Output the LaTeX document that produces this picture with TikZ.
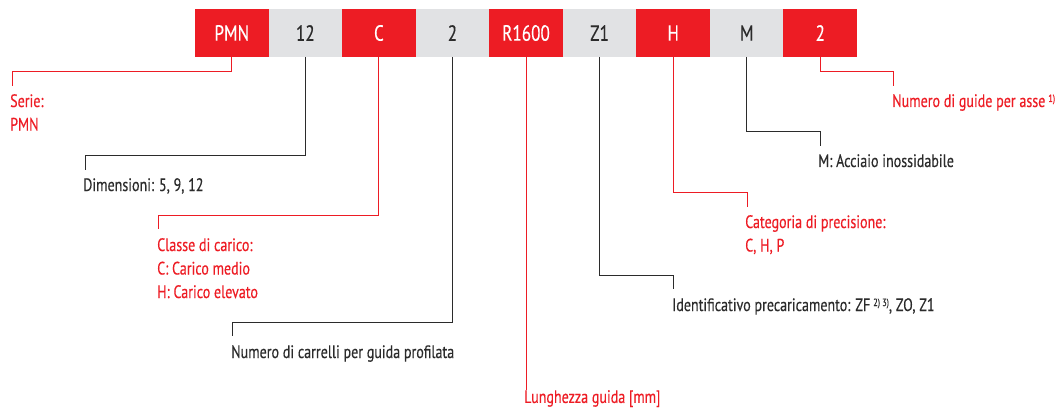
\documentclass[tikz,border=0pt]{standalone}
\usepackage{fontspec}
\setmainfont{PT Sans}[FakeStretch=0.78,FakeBold=0.35]
\usetikzlibrary{positioning}
\definecolor{codered}{HTML}{ED1C24}
\definecolor{codegray}{HTML}{E1E2E4}
\definecolor{codetext}{HTML}{2B2B2B}

\tikzset{
  codebox/.style={minimum width=73.56pt,minimum height=48pt,inner sep=0pt,outer sep=0pt,
    font=\fontsize{22}{22}\selectfont},
  redbox/.style={codebox,fill=codered,text=white},
  graybox/.style={codebox,fill=codegray,text=codetext},
  lbl/.style={inner sep=0pt,align=left,anchor=north west,font=\fontsize{18}{23.5}\selectfont},
  redlbl/.style={lbl,text=codered},
  graylbl/.style={lbl,text=codetext},
  redline/.style={draw=codered,line width=0.9pt},
  grayline/.style={draw=codetext,line width=0.9pt},
}

\begin{document}
\begin{tikzpicture}[x=1pt,y=-1pt]
  \useasboundingbox (0,0) rectangle (1062,409);

  % Order code boxes
  \node[redbox,anchor=north west] (pmn) at (195,9) {PMN};
  \node[graybox,right=0pt of pmn] (size) {12};
  \node[redbox,right=0pt of size] (load) {C};
  \node[graybox,right=0pt of load] (carr) {2};
  \node[redbox,right=0pt of carr] (len) {R1600};
  \node[graybox,right=0pt of len] (pre) {Z1};
  \node[redbox,right=0pt of pre] (prec) {H};
  \node[graybox,right=0pt of prec] (mat) {M};
  \node[redbox,right=0pt of mat] (rails) {2};

  % Knees of the leader lines
  \coordinate (kSerie) at (12,71);
  \coordinate (kSize) at (85,155);
  \coordinate (kLoad) at (158,215);
  \coordinate (kCarr) at (232,322);
  \coordinate (kPre) at (673,275);
  \coordinate (kPrec) at (747,192);
  \coordinate (kMat) at (820,131);
  \coordinate (kRails) at (893,71);

  % Descriptions
  \node[redlbl,below right=23pt and -2pt of kSerie] (serie) {Serie:\\PMN};
  \node[graylbl,below right=23pt and -2pt of kSize] (sizeT) {Dimensioni: 5, 9, 12};
  \node[redlbl,below right=23pt and -1pt of kLoad] (loadT) {Classe di carico:\\C: Carico medio\\H: Carico elevato};
  \node[graylbl,below right=23pt and -1pt of kCarr] (carrT) {Numero di carrelli per guida profilata};
  \node[redlbl,anchor=north west] (lenT) at (524,390) {Lunghezza guida [mm]};
  \node[graylbl,below right=23pt and -1pt of kPre] (preT) {Identificativo precaricamento: ZF\,{\fontsize{10.5}{10}\selectfont\raisebox{5pt}{2) 3)}}, ZO, Z1};
  \node[redlbl,below right=23pt and -2pt of kPrec] (precT) {Categoria di precisione:\\C, H, P};
  \node[graylbl,below right=23pt and -2pt of kMat] (matT) {M: Acciaio inossidabile};
  \node[redlbl,below right=23pt and -1pt of kRails] (railsT) {Numero di guide per asse\,{\fontsize{10.5}{10}\selectfont\raisebox{5pt}{1)}}};

  % Leader lines
  \draw[redline] (pmn.south) |- (kSerie) -- ++(0,15);
  \draw[grayline] (size.south) |- (kSize) -- ++(0,15);
  \draw[redline] (load.south) |- (kLoad) -- ++(0,14);
  \draw[grayline] (carr.south) |- (kCarr) -- ++(0,14);
  \draw[redline] (len.south) -- (len.south |- lenT.north) -- ++(0,-9);
  \draw[grayline] (pre.south) |- (kPre) -- ++(0,14);
  \draw[redline] (prec.south) |- (kPrec) -- ++(0,15);
  \draw[grayline] (mat.south) |- (kMat) -- ++(0,15);
  \draw[redline] (rails.south) |- (kRails) -- ++(0,15);
\end{tikzpicture}
\end{document}
